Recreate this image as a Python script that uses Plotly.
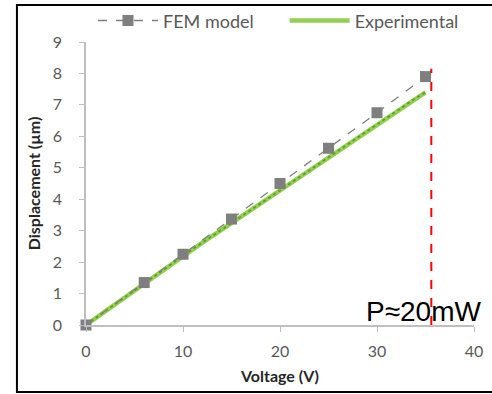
import plotly.graph_objects as go

# FEM model data
fem_v = [0, 6, 10, 15, 20, 25, 30, 35]
fem_d = [0, 1.35, 2.25, 3.37, 4.5, 5.62, 6.75, 7.9]

# Experimental data
exp_v = [0, 2, 4, 6, 8, 10, 12, 14, 16, 18, 20, 22, 24, 26, 28, 30, 32, 34, 35]
exp_d = [0, 0.44, 0.89, 1.33, 1.76, 2.2, 2.62, 3.03, 3.45, 3.86, 4.28, 4.7, 5.12, 5.55, 5.96, 6.37, 6.8, 7.22, 7.4]

# Power limit marker
limit_v = [35.6, 35.6]
limit_d = [0, 8.15]
annot_text = "P\u224820mW"

fig = go.Figure()

fig.add_trace(go.Scatter(
    x=exp_v, y=exp_d, mode="lines", name="Experimental", legend="legend2",
    line=dict(color="#92D050", width=4.5), cliponaxis=False))
fig.add_trace(go.Scatter(
    x=exp_v, y=exp_d, mode="lines", showlegend=False,
    line=dict(color="#5E9E2E", width=1.8, dash="dot"), cliponaxis=False))
fig.add_trace(go.Scatter(
    x=fem_v, y=fem_d, mode="lines+markers", name="FEM model", legend="legend",
    line=dict(color="#7F7F7F", width=1.3, dash="dash"),
    marker=dict(symbol="square", size=11, color="#7F7F7F"),
    cliponaxis=False))
fig.add_trace(go.Scatter(
    x=limit_v, y=limit_d, mode="lines", showlegend=False,
    line=dict(color="#FF0000", width=2, dash="dash"), cliponaxis=False))

fig.add_annotation(x=28.7, y=0, xref="x", yref="y", text=annot_text,
                   showarrow=False, xanchor="left", yanchor="bottom", yshift=-4,
                   font=dict(family="Liberation Sans, Arial", size=28, color="#000000"))

# outer border
fig.add_shape(type="rect", xref="paper", yref="paper",
              x0=-0.178, x1=1.06, y0=-0.237, y1=1.131,
              line=dict(color="#000000", width=2), layer="below")

tickfont = dict(family="Lato, Open Sans", size=16, color="#595959")
titlefont = dict(family="Lato, Open Sans", size=16, color="#262626")
legfont = dict(family="Lato, Open Sans", size=18, color="#595959")
fig.update_layout(
    width=492, height=394,
    margin=dict(l=86, r=18, t=42, b=69, autoexpand=False),
    paper_bgcolor="white", plot_bgcolor="white",
    showlegend=True,
    legend=dict(orientation="h", x=0.018, y=1.075, xanchor="left", yanchor="middle",
                font=legfont, itemwidth=60, bgcolor="rgba(0,0,0,0)"),
    legend2=dict(orientation="h", x=0.512, y=1.075, xanchor="left", yanchor="middle",
                 font=legfont, itemwidth=60, bgcolor="rgba(0,0,0,0)"),
    xaxis=dict(range=[0, 40], tickvals=[0, 10, 20, 30, 40], showgrid=False,
               zeroline=False, showline=True, linecolor="#BFBFBF", linewidth=1.5,
               ticks="outside", ticklen=5, tickcolor="#BFBFBF",
               tickfont=tickfont, ticklabelstandoff=6,
               title=dict(text="<b>Voltage (V)</b>", standoff=12, font=titlefont)),
    yaxis=dict(range=[0, 9], dtick=1, showgrid=False,
               zeroline=False, showline=True, linecolor="#BFBFBF", linewidth=1.5,
               ticks="outside", ticklen=5, tickcolor="#BFBFBF",
               tickfont=tickfont, ticklabelstandoff=14,
               title=dict(text="<b>Displacement (\u00b5m)</b>", standoff=8, font=titlefont)),
)

fig.write_html("out.html")
